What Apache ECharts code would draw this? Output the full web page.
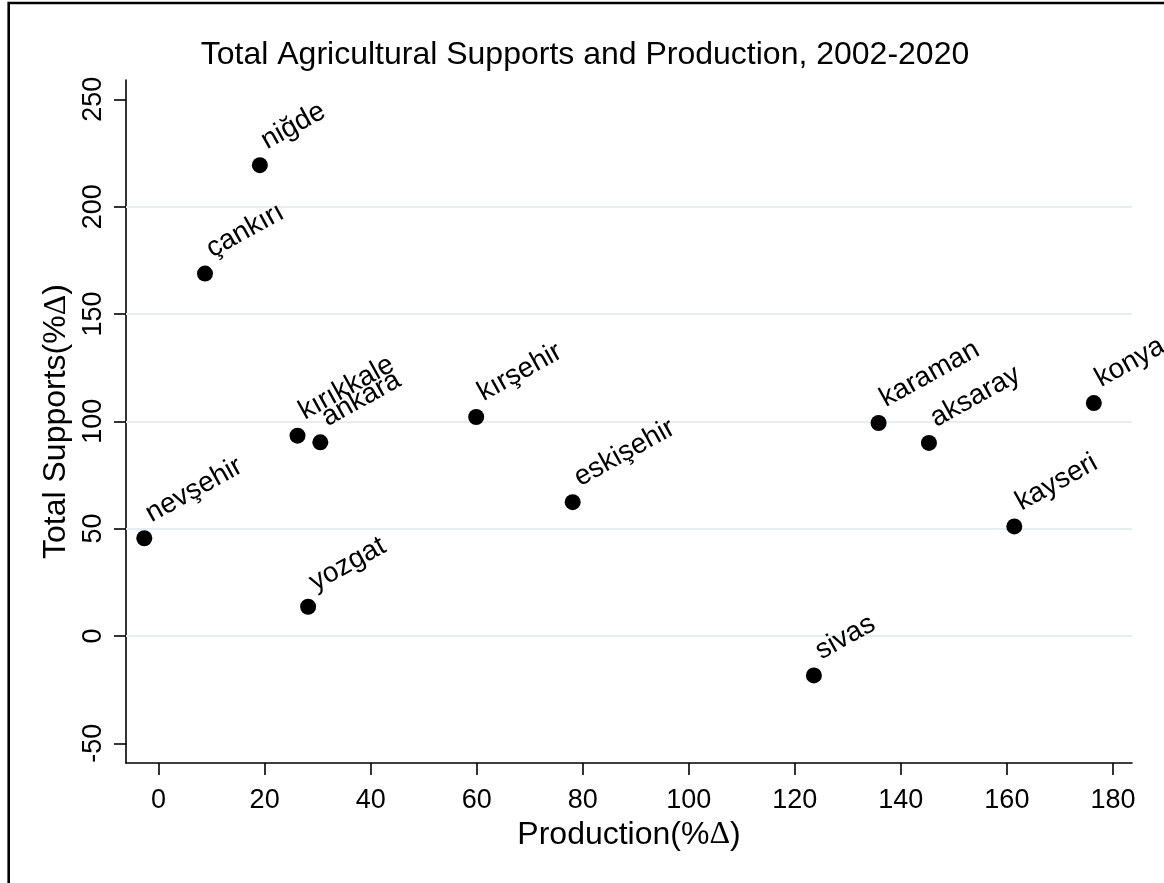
<!DOCTYPE html>
<html>
<head>
<meta charset="utf-8">
<script src="https://cdn.jsdelivr.net/npm/echarts@6/dist/echarts.min.js"></script>
<style>
html,body{margin:0;padding:0;background:#fff;}
#chart{width:1164px;height:883px;}
</style>
</head>
<body>
<div id="chart"></div>
<script>
// ---- data ----
const provinces = ['niğde','çankırı','kırıkkale','ankara','kırşehir','eskişehir','nevşehir','yozgat','sivas','karaman','aksaray','konya','kayseri'];
const production = [19.1, 8.75, 26.2, 30.5, 59.9, 78.1, -2.7, 28.2, 123.6, 135.8, 145.3, 176.4, 161.4];
const supports = [219.3, 168.8, 93.3, 90.2, 102.0, 62.3, 45.5, 13.6, -18.4, 99.2, 89.9, 108.5, 51.0];
const xTicks = [0, 20, 40, 60, 80, 100, 120, 140, 160, 180];
const yTicks = [-50, 0, 50, 100, 150, 200, 250];
const yGrid = [0, 50, 100, 150, 200];
const titleText = 'Total Agricultural Supports and Production, 2002-2020';

const FONT = 'Liberation Sans';
const chart = echarts.init(document.getElementById('chart'), null, {renderer: 'canvas'});
const points = provinces.map((n, i) => ({name: n, value: [production[i], supports[i]]}));

chart.setOption({
  backgroundColor: '#ffffff',
  animation: false,
  title: {
    text: titleText,
    left: 580,
    textAlign: 'center',
    top: 34,
    textStyle: {fontFamily: FONT, fontSize: 32, fontWeight: 'normal', color: '#000'}
  },
  graphic: [{
    type: 'rect', silent: true,
    shape: {x: 8.7, y: 3, width: 2000, height: 2000},
    style: {fill: 'none', stroke: '#000', lineWidth: 2.6}
  }],
  grid: {left: 126, right: 32, top: 80, bottom: 120, containLabel: false},
  xAxis: {
    type: 'value', min: -6.15, max: 183.6,
    name: 'Production(%{d|Δ})', nameLocation: 'middle', nameGap: 50,
    nameTextStyle: {fontFamily: FONT, fontSize: 32, color: '#000',
      rich: {d: {fontFamily: 'Liberation Serif', fontSize: 32, color: '#000'}}},
    axisLine: {show: true, onZero: false, lineStyle: {color: '#000', width: 1.6}},
    axisTick: {show: true, length: 12, customValues: xTicks, lineStyle: {color: '#000', width: 1.6}},
    axisLabel: {customValues: xTicks, fontFamily: FONT, fontSize: 27, color: '#000', margin: 24},
    splitLine: {show: false}
  },
  yAxis: {
    type: 'value', min: -59.2, max: 259,
    name: 'Total Supports(%{d|Δ})', nameLocation: 'middle', nameGap: 53, nameRotate: 90,
    nameTextStyle: {fontFamily: FONT, fontSize: 32, color: '#000',
      rich: {d: {fontFamily: 'Liberation Serif', fontSize: 32, color: '#000'}}},
    axisLine: {show: true, onZero: false, lineStyle: {color: '#000', width: 1.6}},
    axisTick: {show: true, length: 12, customValues: yTicks, lineStyle: {color: '#000', width: 1.6}},
    axisLabel: {customValues: yTicks, rotate: 90, fontFamily: FONT, fontSize: 27, color: '#000', margin: 19},
    splitLine: {show: false}
  },
  series: [{
    type: 'scatter',
    z: 10,
    symbol: 'circle',
    symbolSize: 16,
    itemStyle: {color: '#000', opacity: 1},
    emphasis: {disabled: true},
    data: points,
    label: {
      show: true,
      formatter: '{b}',
      rotate: 29,
      position: [11.5, -14.5],
      align: 'left',
      verticalAlign: 'middle',
      fontFamily: FONT,
      fontSize: 28,
      color: '#000',
      opacity: 1,
      textBorderWidth: 0
    },
    markLine: {
      silent: true,
      symbol: 'none',
      z: 1,
      label: {show: false},
      lineStyle: {color: '#e6eef0', width: 2, type: 'solid', opacity: 1},
      data: yGrid.map(v => ({yAxis: v}))
    }
  }]
});
</script>
</body>
</html>
